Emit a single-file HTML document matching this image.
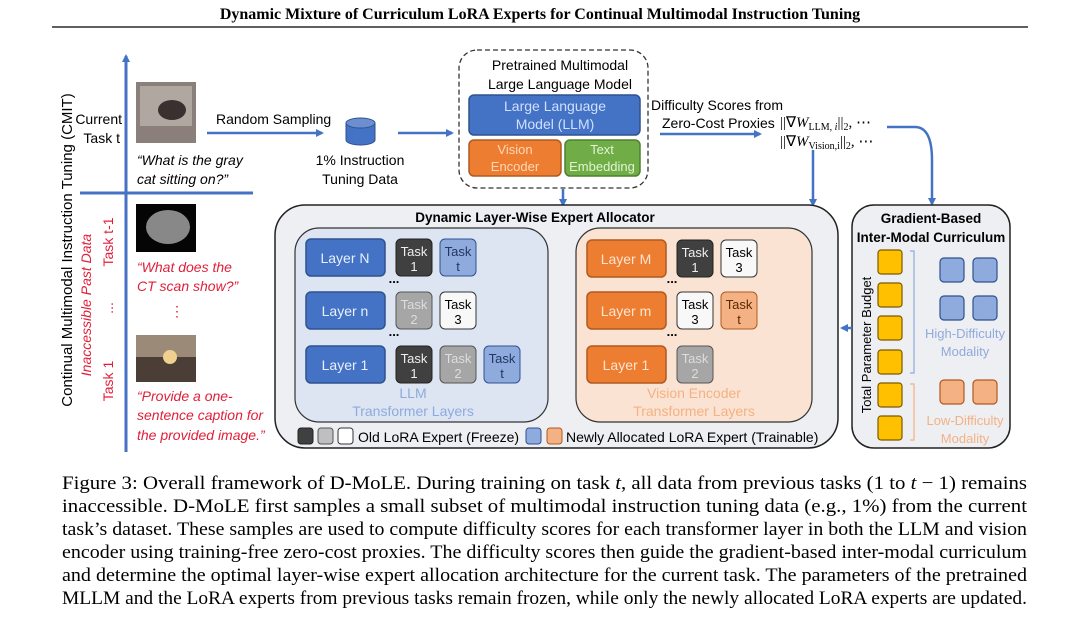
<!DOCTYPE html>
<html><head><meta charset="utf-8"><style>
html,body{margin:0;padding:0;background:#fff;}
svg{display:block;}
.s{font-family:"Liberation Sans",sans-serif;}
.r{font-family:"Liberation Serif",serif;}
</style></head><body>
<svg width="1080" height="636" viewBox="0 0 1080 636" xmlns="http://www.w3.org/2000/svg">
<defs>
<marker id="ah" markerWidth="8" markerHeight="8" refX="6" refY="4" orient="auto" markerUnits="userSpaceOnUse"><path d="M0,0 L8,4 L0,8 Z" fill="#4472c4"/></marker>
</defs>
<text x="540" y="19" text-anchor="middle" class="r" font-size="16" font-weight="bold">Dynamic Mixture of Curriculum LoRA Experts for Continual Multimodal Instruction Tuning</text>
<line x1="52" y1="27" x2="1028" y2="27" stroke="#000" stroke-width="1.2"/>

<!-- axis -->
<line x1="126" y1="452" x2="126" y2="56" stroke="#4472c4" stroke-width="3" marker-end="url(#ah)"/>
<line x1="80" y1="193" x2="253" y2="193" stroke="#4472c4" stroke-width="3"/>
<text transform="translate(72,250) rotate(-90)" text-anchor="middle" class="s" font-size="15">Continual Multimodal Instruction Tuning (CMIT)</text>
<text transform="translate(91,305) rotate(-90)" text-anchor="middle" class="s" font-size="14" font-style="italic" fill="#e0203a">Inaccessible Past Data</text>
<text transform="translate(113,242) rotate(-90)" text-anchor="middle" class="s" font-size="14" fill="#e0203a">Task t-1</text>
<text transform="translate(113,308) rotate(-90)" text-anchor="middle" class="s" font-size="14" fill="#e0203a">...</text>
<text transform="translate(113,381) rotate(-90)" text-anchor="middle" class="s" font-size="14" fill="#e0203a">Task 1</text>
<text x="122" y="124" text-anchor="end" class="s" font-size="14">Current</text>
<text x="120" y="143" text-anchor="end" class="s" font-size="14">Task t</text>

<!-- images -->
<rect x="136" y="82" width="60" height="61" fill="#8a7f7a"/>
<rect x="140" y="86" width="52" height="40" fill="#b0a8a0"/>
<ellipse cx="172" cy="110" rx="14" ry="10" fill="#3a3030"/>
<rect x="136" y="204" width="60" height="48" fill="#050505"/>
<ellipse cx="168" cy="227" rx="22" ry="17" fill="#888"/>
<rect x="136" y="335" width="60" height="47" fill="#4a3e36"/>
<rect x="136" y="335" width="60" height="22" fill="#9c8a78"/>
<circle cx="170" cy="357" r="7" fill="#f0d090"/>

<g class="s" font-size="14" font-style="italic">
<text x="137" y="165">“What is the gray</text>
<text x="137" y="184">cat sitting on?”</text>
<g fill="#e0203a">
<text x="137" y="272">“What does the</text>
<text x="137" y="291">CT scan show?”</text>
<text x="170" y="316" font-style="normal">⋮</text>
<text x="137" y="401">“Provide a one-</text>
<text x="137" y="420">sentence caption for</text>
<text x="137" y="440">the provided image.”</text>
</g></g>

<text x="216" y="124" class="s" font-size="14">Random Sampling</text>
<line x1="207" y1="133" x2="322" y2="133" stroke="#4472c4" stroke-width="2.5" marker-end="url(#ah)"/>
<path d="M346,123 L346,140 A14.5,5 0 0 0 375,140 L375,123" fill="#4472c4" stroke="#2f528f"/>
<ellipse cx="360.5" cy="123" rx="14.5" ry="5" fill="#6d8fd0" stroke="#2f528f"/>
<text x="360" y="165" text-anchor="middle" class="s" font-size="14">1% Instruction</text>
<text x="360" y="184" text-anchor="middle" class="s" font-size="14">Tuning Data</text>
<line x1="398" y1="133" x2="452" y2="133" stroke="#4472c4" stroke-width="2.5" marker-end="url(#ah)"/>

<!-- MLLM dashed -->
<rect x="459" y="50" width="189" height="138" rx="18" fill="#fff" stroke="#333" stroke-width="1.3" stroke-dasharray="5,3"/>
<text x="560" y="70" text-anchor="middle" class="s" font-size="14">Pretrained Multimodal</text>
<text x="560" y="89" text-anchor="middle" class="s" font-size="14">Large Language Model</text>
<rect x="469" y="95" width="171" height="40" rx="5" fill="#4472c4" stroke="#2f528f" stroke-width="1.5"/>
<text x="555" y="111" text-anchor="middle" class="s" font-size="14" fill="#cfe0ff">Large Language</text>
<text x="555" y="129" text-anchor="middle" class="s" font-size="14" fill="#cfe0ff">Model (LLM)</text>
<rect x="469" y="140" width="92" height="36" rx="5" fill="#ed7d31" stroke="#b05a20" stroke-width="1.5"/>
<text x="515" y="154" text-anchor="middle" class="s" font-size="13" fill="#ffd8b8">Vision</text>
<text x="515" y="171" text-anchor="middle" class="s" font-size="13" fill="#ffd8b8">Encoder</text>
<rect x="565" y="140" width="75" height="36" rx="5" fill="#70ad47" stroke="#4e8030" stroke-width="1.5"/>
<text x="602" y="154" text-anchor="middle" class="s" font-size="13" fill="#e0f5d0">Text</text>
<text x="602" y="171" text-anchor="middle" class="s" font-size="13" fill="#e0f5d0">Embedding</text>
<line x1="563" y1="189" x2="563" y2="205" stroke="#4472c4" stroke-width="2.5" marker-end="url(#ah)"/>

<text x="651" y="110" class="s" font-size="14">Difficulty Scores from</text>
<text x="662" y="128" class="s" font-size="14">Zero-Cost Proxies</text>
<line x1="660" y1="134" x2="760" y2="134" stroke="#4472c4" stroke-width="2.5" marker-end="url(#ah)"/>
<text x="780" y="127" class="r" font-size="15">||∇<tspan font-style="italic">W</tspan><tspan font-size="10" dy="3">LLM, <tspan font-style="italic">i</tspan></tspan><tspan dy="-3">||</tspan><tspan font-size="10" dy="3">2</tspan><tspan dy="-3">, ⋯</tspan></text>
<text x="780" y="146" class="r" font-size="15">||∇<tspan font-style="italic">W</tspan><tspan font-size="10" dy="3">Vision,i</tspan><tspan dy="-3">||</tspan><tspan font-size="10" dy="3">2</tspan><tspan dy="-3">, ⋯</tspan></text>
<line x1="813" y1="150" x2="813" y2="205" stroke="#4472c4" stroke-width="2.5" marker-end="url(#ah)"/>
<path d="M887,127 L915,127 Q932,127 932,160 L932,204" fill="none" stroke="#4472c4" stroke-width="2.5" marker-end="url(#ah)"/>

<!-- main allocator -->
<rect x="275" y="205" width="563" height="243" rx="30" fill="#eeeff3" stroke="#222" stroke-width="1.5"/>
<text x="535" y="222" text-anchor="middle" class="s" font-size="13.5" font-weight="bold">Dynamic Layer-Wise Expert Allocator</text>
<rect x="295" y="228" width="253" height="194" rx="24" fill="#dde5f3" stroke="#333" stroke-width="1.2"/>
<rect x="576" y="228" width="236" height="194" rx="24" fill="#fbe3d3" stroke="#333" stroke-width="1.2"/>

<g class="s" font-size="14" text-anchor="middle">
<rect x="306" y="239" width="79" height="37" rx="5" fill="#4472c4" stroke="#2f528f" stroke-width="1.5"/><text x="345" y="263" fill="#e8f0ff">Layer N</text>
<rect x="306" y="292" width="79" height="37" rx="5" fill="#4472c4" stroke="#2f528f" stroke-width="1.5"/><text x="345" y="316" fill="#e8f0ff">Layer n</text>
<rect x="306" y="346" width="79" height="37" rx="5" fill="#4472c4" stroke="#2f528f" stroke-width="1.5"/><text x="345" y="370" fill="#e8f0ff">Layer 1</text>
<rect x="587" y="240" width="79" height="37" rx="5" fill="#ed7d31" stroke="#b05a20" stroke-width="1.5"/><text x="626" y="264" fill="#ffe4d0">Layer M</text>
<rect x="587" y="292" width="79" height="37" rx="5" fill="#ed7d31" stroke="#b05a20" stroke-width="1.5"/><text x="626" y="316" fill="#ffe4d0">Layer m</text>
<rect x="587" y="346" width="79" height="37" rx="5" fill="#ed7d31" stroke="#b05a20" stroke-width="1.5"/><text x="626" y="370" fill="#ffe4d0">Layer 1</text>
</g>
<g class="s" font-size="13" font-weight="bold" text-anchor="middle">
<text x="394" y="283">...</text><text x="394" y="336">...</text>
<text x="672" y="283">...</text><text x="672" y="336">...</text>
</g>
<g class="s" font-size="13" text-anchor="middle">
<rect x="396" y="239" width="36" height="37" rx="5" fill="#404040" stroke="#222"/><text x="414" y="256" fill="#eee">Task</text><text x="414" y="271" fill="#eee">1</text>
<rect x="440" y="239" width="36" height="37" rx="5" fill="#8faadc" stroke="#2f528f"/><text x="458" y="256" fill="#1f3864">Task</text><text x="458" y="271" fill="#1f3864">t</text>
<rect x="396" y="292" width="36" height="37" rx="5" fill="#a6a6a6" stroke="#555"/><text x="414" y="309" fill="#ddd">Task</text><text x="414" y="324" fill="#ddd">2</text>
<rect x="440" y="292" width="36" height="37" rx="5" fill="#f8f8f8" stroke="#333"/><text x="458" y="309">Task</text><text x="458" y="324">3</text>
<rect x="396" y="346" width="36" height="37" rx="5" fill="#404040" stroke="#222"/><text x="414" y="363" fill="#eee">Task</text><text x="414" y="378" fill="#eee">1</text>
<rect x="440" y="346" width="36" height="37" rx="5" fill="#a6a6a6" stroke="#555"/><text x="458" y="363" fill="#ddd">Task</text><text x="458" y="378" fill="#ddd">2</text>
<rect x="484" y="346" width="36" height="37" rx="5" fill="#8faadc" stroke="#2f528f"/><text x="502" y="363" fill="#1f3864">Task</text><text x="502" y="378" fill="#1f3864">t</text>
<rect x="677" y="240" width="36" height="37" rx="5" fill="#404040" stroke="#222"/><text x="695" y="257" fill="#eee">Task</text><text x="695" y="272" fill="#eee">1</text>
<rect x="721" y="240" width="36" height="37" rx="5" fill="#f8f8f8" stroke="#333"/><text x="739" y="257">Task</text><text x="739" y="272">3</text>
<rect x="677" y="292" width="36" height="37" rx="5" fill="#f8f8f8" stroke="#333"/><text x="695" y="309">Task</text><text x="695" y="324">3</text>
<rect x="721" y="292" width="36" height="37" rx="5" fill="#f4b183" stroke="#b05a20"/><text x="739" y="309" fill="#5a2a00">Task</text><text x="739" y="324" fill="#5a2a00">t</text>
<rect x="677" y="346" width="36" height="37" rx="5" fill="#a6a6a6" stroke="#555"/><text x="695" y="363" fill="#ddd">Task</text><text x="695" y="378" fill="#ddd">2</text>
</g>
<g class="s" font-size="14" text-anchor="middle">
<text x="413" y="398" fill="#8faadc">LLM</text>
<text x="413" y="416" fill="#8faadc">Transformer Layers</text>
<text x="694" y="398" fill="#f4b183">Vision Encoder</text>
<text x="694" y="416" fill="#f4b183">Transformer Layers</text>
</g>
<rect x="298" y="428" width="15" height="16" rx="3" fill="#404040" stroke="#222"/>
<rect x="318" y="428" width="15" height="16" rx="3" fill="#bfbfbf" stroke="#555"/>
<rect x="338" y="428" width="15" height="16" rx="3" fill="#fff" stroke="#333"/>
<text x="358" y="442" class="s" font-size="14">Old LoRA Expert (Freeze)</text>
<rect x="526" y="428" width="15" height="16" rx="3" fill="#8faadc" stroke="#2f528f"/>
<rect x="547" y="428" width="15" height="16" rx="3" fill="#f4b183" stroke="#b05a20"/>
<text x="566" y="442" class="s" font-size="14">Newly Allocated LoRA Expert (Trainable)</text>

<!-- right curriculum -->
<rect x="852" y="205" width="158" height="243" rx="22" fill="#eeeff3" stroke="#222" stroke-width="1.5"/>
<text x="931" y="223" text-anchor="middle" class="s" font-size="13.5" font-weight="bold">Gradient-Based</text>
<text x="931" y="242" text-anchor="middle" class="s" font-size="13.5" font-weight="bold">Inter-Modal Curriculum</text>
<line x1="852" y1="328" x2="842" y2="328" stroke="#4472c4" stroke-width="2.5" marker-end="url(#ah)"/>
<text transform="translate(871,345) rotate(-90)" text-anchor="middle" class="s" font-size="13">Total Parameter Budget</text>
<g fill="#ffc000" stroke="#7a5a00" stroke-width="1.2">
<rect x="878" y="250" width="24" height="24" rx="3"/>
<rect x="878" y="283" width="24" height="24" rx="3"/>
<rect x="878" y="316" width="24" height="24" rx="3"/>
<rect x="878" y="350" width="24" height="24" rx="3"/>
<rect x="878" y="383" width="24" height="24" rx="3"/>
<rect x="878" y="416" width="24" height="24" rx="3"/>
</g>
<path d="M910,251 L914,251 L914,373 L910,373" fill="none" stroke="#8faadc" stroke-width="1.2"/>
<path d="M910,384 L914,384 L914,440 L910,440" fill="none" stroke="#f4b183" stroke-width="1.2"/>
<g fill="#8faadc" stroke="#2f528f" stroke-width="1.2">
<rect x="940" y="258" width="24" height="24" rx="4"/><rect x="973" y="258" width="24" height="24" rx="4"/>
<rect x="940" y="296" width="24" height="24" rx="4"/><rect x="973" y="296" width="24" height="24" rx="4"/>
</g>
<g fill="#f4b183" stroke="#b05a20" stroke-width="1.2">
<rect x="940" y="380" width="24" height="24" rx="4"/><rect x="973" y="380" width="24" height="24" rx="4"/>
</g>
<text x="965" y="338" text-anchor="middle" class="s" font-size="13" fill="#8faadc">High-Difficulty</text>
<text x="965" y="356" text-anchor="middle" class="s" font-size="13" fill="#8faadc">Modality</text>
<text x="965" y="425" text-anchor="middle" class="s" font-size="13" fill="#f4b183">Low-Difficulty</text>
<text x="965" y="443" text-anchor="middle" class="s" font-size="13" fill="#f4b183">Modality</text>

<!-- caption -->
<g class="r" font-size="19">
<text x="62" y="489" textLength="965" lengthAdjust="spacingAndGlyphs">Figure 3: Overall framework of D-MoLE. During training on task <tspan font-style="italic">t</tspan>, all data from previous tasks (1 to <tspan font-style="italic">t</tspan> − 1) remains</text>
<text x="62" y="512" textLength="965" lengthAdjust="spacingAndGlyphs">inaccessible.  D-MoLE first samples a small subset of multimodal instruction tuning data (e.g., 1%) from the current</text>
<text x="62" y="535" textLength="965" lengthAdjust="spacingAndGlyphs">task’s dataset. These samples are used to compute difficulty scores for each transformer layer in both the LLM and vision</text>
<text x="62" y="558" textLength="965" lengthAdjust="spacingAndGlyphs">encoder using training-free zero-cost proxies. The difficulty scores then guide the gradient-based inter-modal curriculum</text>
<text x="62" y="581" textLength="965" lengthAdjust="spacingAndGlyphs">and determine the optimal layer-wise expert allocation architecture for the current task. The parameters of the pretrained</text>
<text x="62" y="604" textLength="965" lengthAdjust="spacingAndGlyphs">MLLM and the LoRA experts from previous tasks remain frozen, while only the newly allocated LoRA experts are updated.</text>
</g>
</svg>
</body></html>
